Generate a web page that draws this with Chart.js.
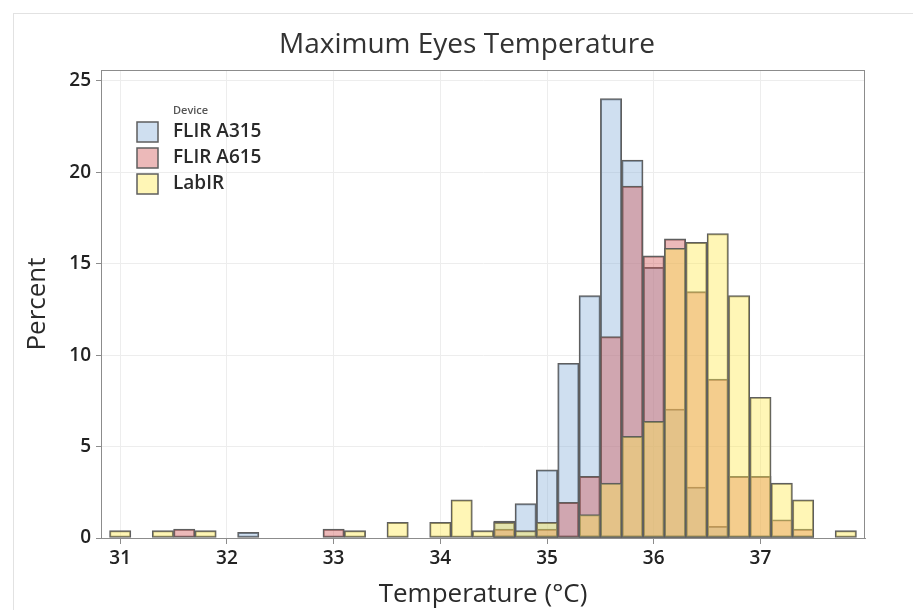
<!DOCTYPE html>
<html>
<head>
<meta charset="utf-8">
<script src="https://cdn.jsdelivr.net/npm/chart.js@4.4.1/dist/chart.umd.min.js"></script>
<style>
  html, body { margin: 0; padding: 0; background: #fff; overflow: hidden; }
  #wrap { position: relative; width: 913px; height: 610px; }
  #frame {
    position: absolute; left: 13px; top: 13px; width: 908px; height: 610px;
    border-left: 1px solid #e2e2e2; border-top: 1px solid #e2e2e2;
  }
  #title {
    position: absolute; left: 13px; top: 26px; width: 908px; text-align: center;
    font-family: "Open Sans", sans-serif; font-size: 28px; line-height: 32px; color: #333;
  }
  canvas { position: absolute; left: 0; top: 0; }
</style>
</head>
<body>
<div id="wrap">
  <div id="frame"></div>
  <canvas id="chart" width="913" height="610"></canvas>
  <div id="title">Maximum Eyes Temperature</div>
</div>
<script>
// bin centres (°C), width 0.2
const binCenters = [31.0, 31.2, 31.4, 31.6, 31.8, 32.0, 32.2, 32.4, 32.6, 32.8,
                    33.0, 33.2, 33.4, 33.6, 33.8, 34.0, 34.2, 34.4, 34.6, 34.8,
                    35.0, 35.2, 35.4, 35.6, 35.8, 36.0, 36.2, 36.4, 36.6, 36.8,
                    37.0, 37.2, 37.4, 37.6, 37.8];

// percent per bin, null = empty bin
const flirA315 = [null, null, null, null, null, null, 0.31, null, null, null,
                  null, null, null, null, null, null, null, null, 0.93, 1.88,
                  3.73, 9.56, 13.26, 24.04, 20.67, 14.8, 7.05, 2.79, 0.64, null,
                  null, null, null, null, null];
const flirA615 = [null, null, null, 0.49, null, null, null, null, null, null,
                  0.49, null, null, null, null, null, null, null, 0.49, null,
                  0.49, 1.95, 3.37, 11.02, 19.25, 15.43, 16.36, 13.48, 8.69, 3.37,
                  3.37, 1.0, 0.49, null, null];
const labIR =    [0.4, null, 0.4, null, 0.4, null, null, null, null, null,
                  null, 0.4, null, 0.86, null, 0.86, 2.09, 0.4, 0.86, 0.4,
                  0.86, null, 1.28, 3.0, 5.56, 6.38, 15.85, 16.17, 16.65, 13.26,
                  7.7, 3.0, 2.09, null, 0.4];

const deviceNames = ['FLIR A315', 'FLIR A615', 'LabIR'];
const xTicks = [31, 32, 33, 34, 35, 36, 37];
const yTicks = [0, 5, 10, 15, 20, 25];

const fills = ['rgba(140, 178, 219, 0.42)', 'rgba(209, 87, 87, 0.42)', 'rgba(255, 233, 82, 0.42)'];
const edge = '#5e5e5e';
const axisGray = '#8c8c8c';
const font = '"Open Sans", sans-serif';

const toPoints = vals => binCenters.map((x, i) => ({ x: x, y: vals[i] }));

// plot frame around the data area
const framePlugin = {
  id: 'frame',
  afterDatasetsDraw(chart) {
    const { ctx, chartArea: a } = chart;
    ctx.save();
    ctx.strokeStyle = axisGray;
    ctx.lineWidth = 1;
    ctx.strokeRect(a.left + 0.5, a.top + 0.5, a.right - a.left - 1, a.bottom - a.top);
    ctx.restore();
  }
};

// Minitab-style legend inside the plot
const insideLegend = {
  id: 'insideLegend',
  afterDraw(chart) {
    const { ctx, chartArea: a } = chart;
    const bx = a.left + 36, tx = a.left + 72;
    ctx.save();
    ctx.fillStyle = '#555';
    ctx.font = '600 11px ' + font;
    ctx.textBaseline = 'alphabetic';
    ctx.fillText('Device', tx, a.top + 44);
    ctx.font = '600 19px ' + font;
    chart.data.datasets.forEach((ds, i) => {
      const by = a.top + 52 + i * 26;
      ctx.fillStyle = '#fff';
      ctx.fillRect(bx, by, 21, 20);
      ctx.fillStyle = ds.backgroundColor;
      ctx.fillRect(bx, by, 21, 20);
      ctx.strokeStyle = edge;
      ctx.lineWidth = 1.5;
      ctx.strokeRect(bx, by, 21, 20);
      ctx.fillStyle = '#2a2a2a';
      ctx.textBaseline = 'middle';
      ctx.fillText(ds.label, tx, by + 10);
    });
    ctx.restore();
  }
};

const barStyle = {
  borderColor: edge,
  borderWidth: 1.3,
  borderSkipped: false,
  barPercentage: 1.0,
  categoryPercentage: 1.0,
  grouped: false
};

new Chart(document.getElementById('chart'), {
  type: 'bar',
  data: {
    datasets: [
      Object.assign({ label: deviceNames[0], data: toPoints(flirA315), backgroundColor: fills[0], order: 3 }, barStyle),
      Object.assign({ label: deviceNames[1], data: toPoints(flirA615), backgroundColor: fills[1], order: 2 }, barStyle),
      Object.assign({ label: deviceNames[2], data: toPoints(labIR), backgroundColor: fills[2], order: 1 }, barStyle)
    ]
  },
  options: {
    responsive: false,
    animation: false,
    layout: { padding: { top: 70, right: 48, left: 0, bottom: 0 } },
    plugins: {
      legend: { display: false },
      tooltip: { enabled: false },
      title: { display: false }
    },
    scales: {
      x: {
        type: 'linear',
        offset: false,
        min: 30.82,
        max: 37.98,
        afterFit: s => { s.height = 72; },
        afterBuildTicks: s => { s.ticks = xTicks.map(v => ({ value: v })); },
        ticks: {
          color: '#222',
          font: { family: font, size: 19, weight: '600' },
          padding: 3
        },
        grid: { offset: false, color: '#ededed', tickColor: axisGray, tickLength: 6 },
        border: { color: axisGray },
        title: {
          display: true,
          text: 'Temperature (°C)',
          color: '#2a2a2a',
          font: { family: font, size: 26 },
          padding: { top: 0, bottom: 0 }
        }
      },
      y: {
        min: 0,
        max: 25.6,
        afterFit: s => { s.width = 101; },
        afterBuildTicks: s => { s.ticks = yTicks.map(v => ({ value: v })); },
        ticks: {
          color: '#222',
          font: { family: font, size: 19, weight: '600' },
          padding: 5
        },
        grid: { color: '#ededed', tickColor: axisGray, tickLength: 5 },
        border: { color: axisGray },
        title: {
          display: true,
          text: 'Percent',
          color: '#2a2a2a',
          font: { family: font, size: 26 },
          padding: { top: 22, bottom: 0 }
        }
      }
    }
  },
  plugins: [framePlugin, insideLegend]
});
</script>
</body>
</html>
